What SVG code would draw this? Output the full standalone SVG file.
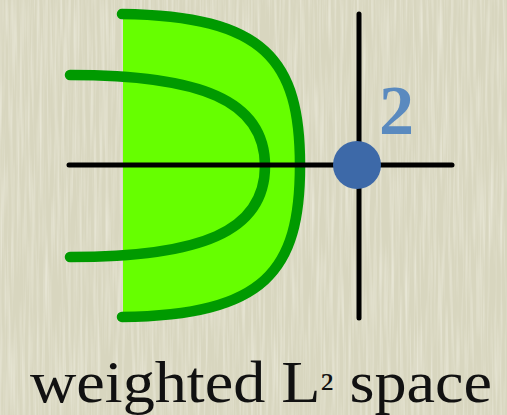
<svg xmlns="http://www.w3.org/2000/svg" width="507" height="415" viewBox="0 0 507 415">
<defs>
<filter id="tex" x="0" y="0" width="100%" height="100%">
<feTurbulence type="fractalNoise" baseFrequency="0.35 0.012" numOctaves="2" seed="3" result="n"/>
<feColorMatrix in="n" type="matrix" values="0 0 0 0 0.93  0 0 0 0 0.92  0 0 0 0 0.84  0 0 0 1.1 -0.45"/>
</filter>
<style>
.curve{fill:none;stroke:#009a00;stroke-width:10.5;stroke-linecap:round}
.axis{stroke:#000;stroke-width:5;stroke-linecap:round}
</style>
</defs>
<rect width="507" height="415" fill="#d8d6bf"/>
<rect width="507" height="415" filter="url(#tex)"/>
<g id="region">
<path d="M123,14 C265,16 300,60 300,165.5 C300,271 265,315 123,317 Z" fill="#66ff00"/>
<path class="curve" d="M122,14 C265,16 300,60 300,165.5 C300,271 265,315 122,317"/>
<path class="curve" d="M70,75 C200,75 265,100 265,166 C265,232 200,257 70,257"/>
</g>
<g id="axes">
<line class="axis" x1="69" y1="165" x2="452" y2="165"/>
<line class="axis" x1="359" y1="14" x2="359" y2="318"/>
</g>
<g id="point">
<circle cx="357" cy="165" r="24" fill="#3d69a8"/>
<text x="379" y="134" font-family="Liberation Serif, serif" font-weight="bold" font-size="70" fill="#5a8abf">2</text>
</g>
<text x="261" y="402" text-anchor="middle" textLength="462" lengthAdjust="spacingAndGlyphs" font-family="Liberation Serif, serif" font-size="60" fill="#111">weighted L<tspan font-size="40" dy="-2">²</tspan><tspan dy="2"> space</tspan></text>
</svg>
